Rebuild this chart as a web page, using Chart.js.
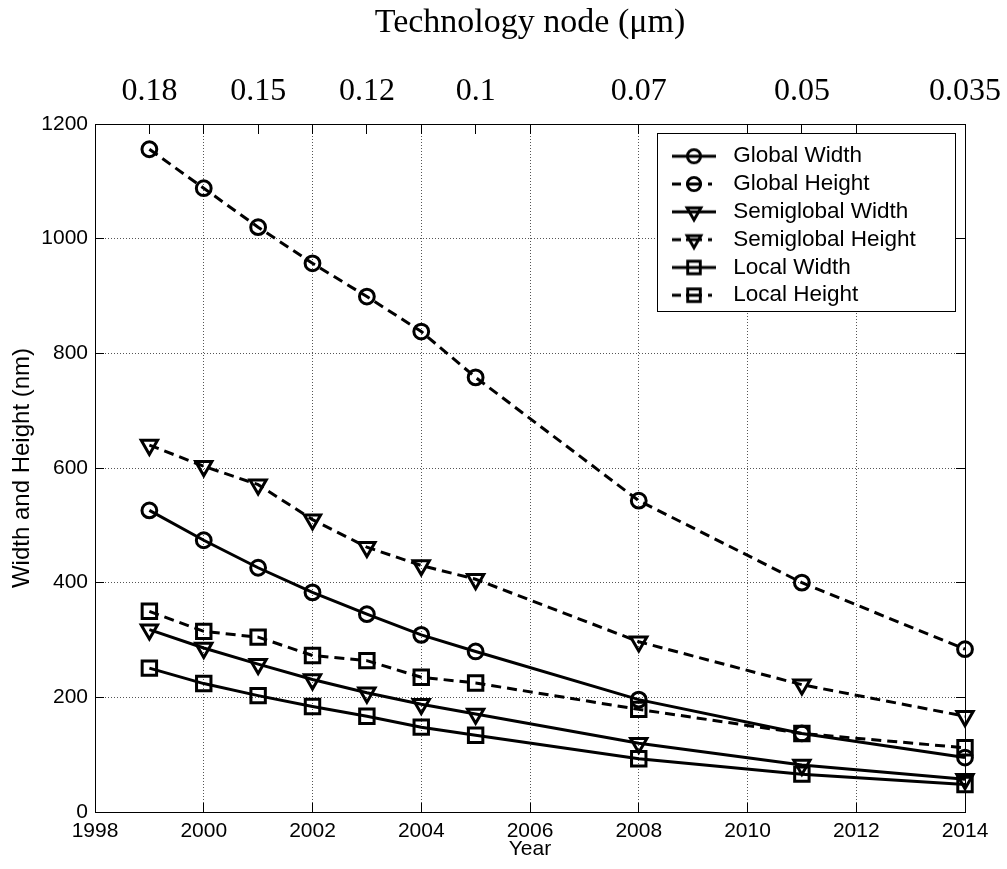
<!DOCTYPE html>
<html>
<head>
<meta charset="utf-8">
<title>Interconnect width and height by year</title>
<script src="https://cdn.jsdelivr.net/npm/chart.js@4/dist/chart.umd.min.js"></script>
<style>
  html, body { margin: 0; padding: 0; background: #fff; }
  #wrap { width: 1007px; height: 869px; }
</style>
</head>
<body>
<div id="wrap"><canvas id="chart" width="1007" height="869"></canvas></div>
<script>
// ---- data ----
const years = [1999, 2000, 2001, 2002, 2003, 2004, 2005, 2008, 2011, 2014];

const globalWidth      = [526, 474, 426, 383, 345, 309, 280, 196, 137, 95];
const globalHeight     = [1156, 1088, 1020, 957, 899, 838, 758, 543, 400, 284];
const semiglobalWidth  = [318, 286, 258, 231, 208, 188, 171, 120, 82, 57];
const semiglobalHeight = [640, 603, 571, 510, 462, 430, 406, 297, 222, 167];
const localWidth       = [251, 224, 203, 184, 167, 148, 134, 93, 66, 48];
const localHeight      = [350, 315, 305, 273, 264, 235, 225, 179, 137, 112];

const seriesNames = ['Global Width', 'Global Height', 'Semiglobal Width',
                     'Semiglobal Height', 'Local Width', 'Local Height'];
const seriesValues = [globalWidth, globalHeight, semiglobalWidth,
                      semiglobalHeight, localWidth, localHeight];

// technology node labels along the top axis, placed at their years
const nodeYears  = [1999, 2001, 2003, 2005, 2008, 2011, 2014];
const nodeLabels = ['0.18', '0.15', '0.12', '0.1', '0.07', '0.05', '0.035'];

// ---- styling ----
const SANS  = "'Liberation Sans', Arial, Helvetica, sans-serif";
const SERIF = "'Liberation Serif', 'Times New Roman', serif";
const markerFor = ['circle', 'circle', 'triangle', 'triangle', 'rect', 'rect'];
const dashedFor = [false, true, false, true, false, true];
const markerRadius = { circle: 7.4, triangle: 9.4, rect: 10.2 };
const LINE_W = 3.0;

// small legend swatch: line sample with the marker in the middle
function legendIcon(marker, dashed) {
  const c = document.createElement('canvas');
  c.width = 48; c.height = 24;
  const g = c.getContext('2d');
  const cx = 24, cy = 12;
  g.strokeStyle = '#000';
  g.lineWidth = 2.9;
  g.beginPath();
  if (dashed) {
    g.moveTo(2, cy); g.lineTo(11, cy);
    g.moveTo(16, cy); g.lineTo(32, cy);
    g.moveTo(38, cy); g.lineTo(42, cy);
  } else {
    g.moveTo(2, cy); g.lineTo(46, cy);
  }
  g.stroke();
  g.beginPath();
  if (marker === 'circle') {
    g.arc(cx, cy, 6.6, 0, Math.PI * 2);
  } else if (marker === 'triangle') {
    const r = 8;
    g.moveTo(cx, cy + r);
    g.lineTo(cx - r * 0.866, cy - r / 2);
    g.lineTo(cx + r * 0.866, cy - r / 2);
    g.closePath();
  } else {
    g.rect(cx - 6.3, cy - 6.3, 12.6, 12.6);
  }
  g.stroke();
  return c;
}
const legendIcons = seriesNames.map((_, i) => legendIcon(markerFor[i], dashedFor[i]));

const datasets = seriesNames.map((name, i) => ({
  label: name,
  data: years.map((x, j) => ({ x: x, y: seriesValues[i][j] })),
  borderColor: '#000',
  borderWidth: LINE_W,
  borderDash: dashedFor[i] ? [10, 6] : [],
  pointStyle: markerFor[i],
  pointRotation: markerFor[i] === 'triangle' ? 180 : 0,
  pointRadius: markerRadius[markerFor[i]],
  pointBorderWidth: LINE_W,
  pointBorderColor: '#000',
  pointBackgroundColor: 'rgba(0,0,0,0)',
  fill: false,
  tension: 0,
  clip: false,
  xAxisID: 'x',
  yAxisID: 'y'
}));

// hide dotted grid lines that would sit on the box edges
const innerOnly = (lo, hi) => (ctx) =>
  (ctx.tick && (ctx.tick.value === lo || ctx.tick.value === hi)) ? 'rgba(0,0,0,0)' : '#555';

// legend frame in the upper right corner of the plot box
const FRAME = { right: 10, top: 9.3, width: 297.7, height: 178.4, padLeft: 3.4, padTop: 6.4 };
function frameRect(chart) {
  const a = chart.chartArea;
  const x = a.right - FRAME.right - FRAME.width;
  const y = a.top + FRAME.top;
  return { x: x, y: y, w: FRAME.width, h: FRAME.height };
}

const legendFrame = {
  id: 'legendFrame',
  afterLayout(chart) {
    const lg = chart.legend;
    if (!lg) return;
    const f = frameRect(chart);
    const h = lg.height;
    lg.left = f.x + FRAME.padLeft;
    lg.top = f.y + FRAME.padTop;
    lg.right = lg.left + lg.width;
    lg.bottom = lg.top + h;
  },
  afterDatasetsDraw(chart) {
    const ctx = chart.ctx;
    const f = frameRect(chart);
    ctx.save();
    ctx.fillStyle = '#fff';
    ctx.fillRect(f.x, f.y, f.w, f.h);
    ctx.strokeStyle = '#000';
    ctx.lineWidth = 1;
    ctx.strokeRect(Math.round(f.x) + 0.5, Math.round(f.y) + 0.5, Math.round(f.w), Math.round(f.h));
    ctx.restore();
    chart.legend.draw();
  }
};

new Chart(document.getElementById('chart'), {
  type: 'line',
  data: { datasets: datasets },
  plugins: [legendFrame],
  options: {
    responsive: false,
    animation: false,
    devicePixelRatio: 1,
    layout: { padding: { left: 0, right: 42, top: 0, bottom: 0 } },
    scales: {
      x: {
        type: 'linear', position: 'bottom', min: 1998, max: 2014,
        ticks: {
          stepSize: 2, padding: 16, color: '#000', autoSkip: false, maxRotation: 0,
          font: { family: SANS, size: 21 },
          callback: (v) => String(v)
        },
        grid: { color: innerOnly(1998, 2014), lineWidth: 1, tickLength: -9, tickColor: '#000', tickWidth: 1 },
        border: { display: true, color: '#000', width: 1, dash: [1, 2] },
        title: {
          display: true, text: 'Year', color: '#000',
          font: { family: SANS, size: 21, lineHeight: 1 },
          padding: { top: 0, bottom: 9 }
        },
        afterFit: (s) => { s.height = 57; s.paddingLeft = 0; s.paddingRight = 0; }
      },
      xTop: {
        type: 'linear', position: 'top', min: 1998, max: 2014,
        afterBuildTicks: (s) => {
          const set = new Set(nodeYears);
          for (let y = s.min; y <= s.max; y += 2) set.add(y);
          s.ticks = Array.from(set).sort((a, b) => a - b).map((v) => ({ value: v }));
        },
        ticks: {
          autoSkip: false, maxRotation: 0, minRotation: 0, padding: 23, color: '#000',
          font: { family: SERIF, size: 32 },
          callback: (v) => { const i = nodeYears.indexOf(v); return i >= 0 ? nodeLabels[i] : ''; }
        },
        grid: { drawOnChartArea: false, tickLength: -10, tickColor: '#000', tickWidth: 1 },
        border: { display: true, color: '#000', width: 1 },
        title: {
          display: true, text: 'Technology node (\u03bcm)', color: '#000',
          font: { family: SERIF, size: 34, lineHeight: 1 },
          padding: { top: 6, bottom: 0 }
        },
        afterFit: (s) => { s.height = 124; s.paddingLeft = 0; s.paddingRight = 0; }
      },
      y: {
        type: 'linear', position: 'left', min: 0, max: 1200,
        ticks: {
          stepSize: 200, padding: 16, color: '#000',
          font: { family: SANS, size: 21 },
          callback: (v) => String(v)
        },
        grid: { color: innerOnly(0, 1200), lineWidth: 1, tickLength: -9, tickColor: '#000', tickWidth: 1 },
        border: { display: true, color: '#000', width: 1, dash: [1, 2] },
        title: {
          display: true, text: 'Width and Height (nm)', color: '#000',
          font: { family: SANS, size: 24, lineHeight: 1 },
          padding: { top: 10, bottom: 0 }
        },
        afterFit: (s) => { s.width = 95; s.paddingTop = 0; s.paddingBottom = 0; }
      },
      y2: {
        type: 'linear', position: 'right', min: 0, max: 1200,
        ticks: { stepSize: 200, display: false },
        grid: { drawOnChartArea: false, tickLength: -9, tickColor: '#000', tickWidth: 1 },
        border: { display: true, color: '#000', width: 1 },
        afterFit: (s) => { s.width = 0; s.paddingTop = 0; s.paddingBottom = 0; }
      }
    },
    plugins: {
      tooltip: { enabled: false },
      legend: {
        display: true, position: 'chartArea', align: 'start',
        labels: {
          usePointStyle: true, pointStyleWidth: 56, padding: 5.3, color: '#000',
          font: { family: SANS, size: 22.5 },
          generateLabels: (chart) => chart.data.datasets.map((d, i) => ({
            text: d.label, pointStyle: legendIcons[i], fillStyle: '#000', strokeStyle: '#000',
            lineWidth: 0, hidden: false, datasetIndex: i, rotation: 0, fontColor: '#000'
          }))
        }
      }
    }
  }
});
</script>
</body>
</html>
